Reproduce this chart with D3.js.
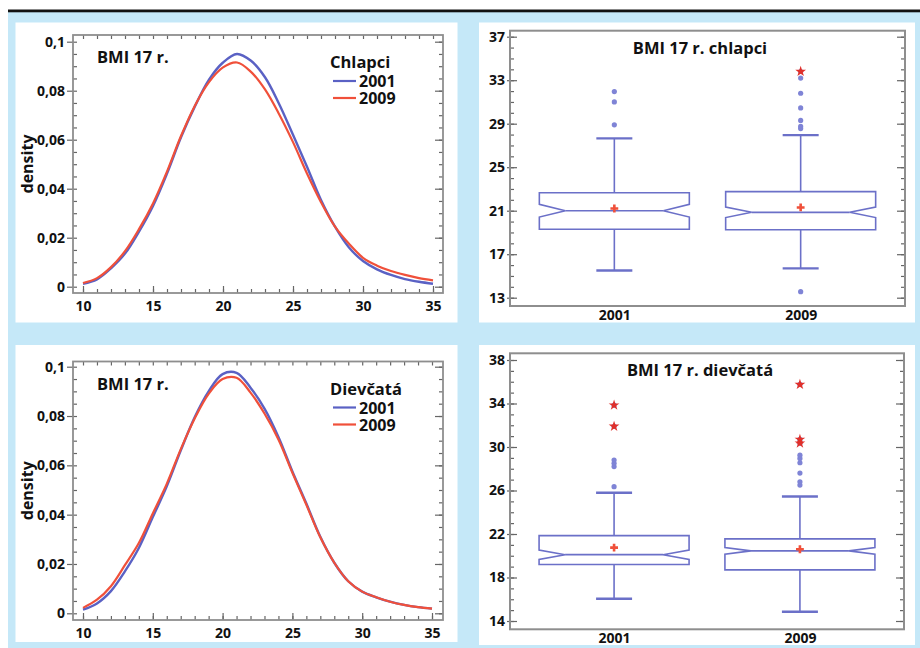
<!DOCTYPE html>
<html>
<head>
<meta charset="utf-8">
<script src="https://cdn.jsdelivr.net/npm/d3@7"></script>
<style>
  body { margin: 0; background: #fff; }
  text { font-family: "Open Sans", sans-serif; font-weight: 700; fill: #111; }
</style>
</head>
<body>
<svg id="chart" width="920" height="648"></svg>
<script>
// BMI grid used for the density curves
var bmiX = [10, 11, 12, 13, 14, 15, 16, 17, 18, 19, 20, 21, 22, 23, 24, 25, 26, 27, 28, 29, 30, 31, 32, 33, 34, 35];

// density estimates
var boys2001 = [0.0012, 0.0030, 0.0075, 0.0135, 0.0225, 0.0330, 0.0462, 0.0610, 0.0737, 0.0845, 0.0915, 0.0950, 0.0922,
                0.0855, 0.0747, 0.0620, 0.0490, 0.0354, 0.0245, 0.0160, 0.0105, 0.0071, 0.0048, 0.0031, 0.0020, 0.0012];
var boys2009 = [0.0015, 0.0035, 0.0080, 0.0145, 0.0235, 0.0340, 0.0470, 0.0615, 0.0740, 0.0835, 0.0895, 0.0915, 0.0877,
                0.0805, 0.0705, 0.0590, 0.0462, 0.0345, 0.0245, 0.0175, 0.0118, 0.0086, 0.0064, 0.0048, 0.0035, 0.0026];
var girls2001 = [0.0015, 0.0040, 0.0090, 0.0170, 0.0265, 0.0390, 0.0515, 0.0660, 0.0795, 0.0900, 0.0970, 0.0975, 0.0915,
                 0.0830, 0.0715, 0.0575, 0.0445, 0.0310, 0.0205, 0.0130, 0.0088, 0.0065, 0.0047, 0.0034, 0.0025, 0.0019];
var girls2009 = [0.0022, 0.0055, 0.0110, 0.0195, 0.0285, 0.0405, 0.0525, 0.0665, 0.0790, 0.0890, 0.0950, 0.0955, 0.0895,
                 0.0810, 0.0705, 0.0570, 0.0440, 0.0308, 0.0205, 0.0130, 0.0088, 0.0065, 0.0047, 0.0034, 0.0025, 0.0019];

var densityTicks = [0, 0.02, 0.04, 0.06, 0.08, 0.1];
var bmiTicks = [10, 15, 20, 25, 30, 35];
var years = ["2001", "2009"];

// box plot summaries (lower whisker, Q1, median, Q3, upper whisker, mean, notch half width)
var boysBox = [
  { year: "2001", lo: 15.5, q1: 19.3, med: 21.0, q3: 22.65, hi: 27.65, mean: 21.2, notch: 0.58 },
  { year: "2009", lo: 15.7, q1: 19.25, med: 20.85, q3: 22.75, hi: 27.95, mean: 21.3, notch: 0.48 }
];
var girlsBox = [
  { year: "2001", lo: 16.05, q1: 19.2, med: 20.1, q3: 21.85, hi: 25.8, mean: 20.75, notch: 0.43 },
  { year: "2009", lo: 14.85, q1: 18.7, med: 20.45, q3: 21.55, hi: 25.45, mean: 20.6, notch: 0.3 }
];
var boysOut = [
  { year: "2001", v: 28.9, far: false }, { year: "2001", v: 31.0, far: false }, { year: "2001", v: 31.95, far: false },
  { year: "2009", v: 13.55, far: false }, { year: "2009", v: 28.55, far: false }, { year: "2009", v: 28.75, far: false },
  { year: "2009", v: 29.3, far: false }, { year: "2009", v: 30.45, far: false }, { year: "2009", v: 31.8, far: false },
  { year: "2009", v: 33.2, far: false }, { year: "2009", v: 33.8, far: true }
];
var girlsOut = [
  { year: "2001", v: 26.35, far: false }, { year: "2001", v: 28.2, far: false }, { year: "2001", v: 28.5, far: false },
  { year: "2001", v: 28.8, far: false }, { year: "2001", v: 31.9, far: true }, { year: "2001", v: 33.85, far: true },
  { year: "2009", v: 26.5, far: false }, { year: "2009", v: 26.8, far: false }, { year: "2009", v: 27.6, far: false },
  { year: "2009", v: 28.55, far: false }, { year: "2009", v: 28.95, far: false }, { year: "2009", v: 29.25, far: false },
  { year: "2009", v: 30.35, far: true }, { year: "2009", v: 30.7, far: true }, { year: "2009", v: 35.75, far: true }
];

var BLUE = "#5a61c4", RED = "#f0503a", BOXC = "#6b70c8", DOT = "#7f84d6", FRAME = "#8e8e8e", TICK = "#666";

var svg = d3.select("#chart");
var comma = d3.formatLocale({ decimal: ",", thousands: " ", grouping: [3], currency: ["", ""] });
var fmtDens = comma.format(".2~f");

// page background, rule and white panels
svg.append("rect").attr("x", 8).attr("y", 12).attr("width", 912).attr("height", 636).attr("fill", "#c5e8f8");
svg.append("rect").attr("x", 8).attr("y", 9.5).attr("width", 912).attr("height", 2.8).attr("fill", "#111");
[[15.5, 22.5, 442, 300], [479, 22.5, 436, 300], [15.5, 345, 442, 297], [479, 345, 436, 300]].forEach(function(p) {
  svg.append("rect").attr("x", p[0]).attr("y", p[1]).attr("width", p[2]).attr("height", p[3]).attr("fill", "#fff");
});

function styleAxis(g) {
  g.select(".domain").remove();
  g.selectAll(".tick line").attr("stroke", TICK).attr("stroke-width", 1.2);
  g.selectAll("text").attr("font-size", 14).attr("fill", "#111");
}

/* density panel */
function makeDensity(p, series2001, series2009, groupName) {
  var g = svg.append("g");
  var x = d3.scaleLinear().domain([10, 35]).range(p.xr);
  var y = d3.scaleLinear().domain([0, 0.1]).range(p.yr);

  g.append("g").attr("transform", "translate(" + p.x0 + ",0)")
    .call(d3.axisLeft(y).tickValues(densityTicks).tickFormat(fmtDens).tickSize(6).tickPadding(2)).call(styleAxis);
  g.append("g").attr("transform", "translate(" + p.x0 + ",0)")
    .call(d3.axisLeft(y).tickValues(y.ticks(20)).tickFormat("").tickSize(-4)).call(styleAxis);
  g.append("g").attr("transform", "translate(" + p.x1 + ",0)")
    .call(d3.axisRight(y).tickValues(y.ticks(20)).tickFormat("").tickSize(-4)).call(styleAxis);
  g.append("g").attr("transform", "translate(" + p.x1 + ",0)")
    .call(d3.axisRight(y).tickValues(densityTicks).tickFormat("").tickSize(-8)).call(styleAxis);
  g.append("g").attr("transform", "translate(0," + p.y0 + ")")
    .call(d3.axisTop(x).tickValues(x.ticks(25)).tickFormat("").tickSize(-4)).call(styleAxis);
  g.append("g").attr("transform", "translate(0," + p.y1 + ")")
    .call(d3.axisBottom(x).tickValues(x.ticks(25)).tickFormat("").tickSize(-4)).call(styleAxis);
  g.append("g").attr("transform", "translate(0," + p.y1 + ")")
    .call(d3.axisBottom(x).tickValues(bmiTicks).tickFormat(d3.format("d")).tickSize(-7).tickPadding(8)).call(styleAxis);

  g.append("rect").attr("x", p.x0).attr("y", p.y0).attr("width", p.x1 - p.x0).attr("height", p.y1 - p.y0)
    .attr("fill", "none").attr("stroke", FRAME).attr("stroke-width", 1.8);

  var line = d3.line().x(function(d, i) { return x(bmiX[i]); }).y(function(d) { return y(d); })
    .curve(d3.curveCatmullRom.alpha(0.5));
  g.append("path").datum(series2001).attr("d", line).attr("fill", "none").attr("stroke", BLUE).attr("stroke-width", 2.4);
  g.append("path").datum(series2009).attr("d", line).attr("fill", "none").attr("stroke", RED).attr("stroke-width", 2.2);

  g.append("text").attr("transform", "translate(27," + ((p.y0 + p.y1) / 2) + ") rotate(-90)")
    .attr("text-anchor", "middle").attr("dy", "0.35em").attr("font-size", 16).text("density");
  g.append("text").attr("x", p.x0 + 24).attr("y", p.y0 + 28).attr("font-size", 16.5).text("BMI 17 r.");
  g.append("text").attr("x", p.x0 + 257).attr("y", p.y0 + 33).attr("font-size", 16.5).text(groupName);
  [[years[0], BLUE, 46], [years[1], RED, 63]].forEach(function(r) {
    g.append("line").attr("x1", p.x0 + 260).attr("x2", p.x0 + 283).attr("y1", p.y0 + r[2]).attr("y2", p.y0 + r[2])
      .attr("stroke", r[1]).attr("stroke-width", 2.2);
    g.append("text").attr("x", p.x0 + 286).attr("y", p.y0 + r[2] + 6).attr("font-size", 16).text(r[0]);
  });
}

/* notched box plot panel */
function makeBox(p, stats, outliers, title) {
  var g = svg.append("g");
  var x = d3.scalePoint().domain(years).range([p.x0, p.x1]).padding(0.56);
  var y = d3.scaleLinear().domain(p.dom).range(p.yr);
  var majors = d3.range(p.dom[0], p.dom[1] + 1, 4);

  g.append("g").attr("transform", "translate(" + p.x0 + ",0)")
    .call(d3.axisLeft(y).tickValues(majors).tickFormat(d3.format("d")).tickSize(3).tickPadding(2)).call(styleAxis);
  g.append("g").attr("transform", "translate(" + p.x0 + ",0)")
    .call(d3.axisLeft(y).tickValues(y.ticks(24)).tickFormat("").tickSize(-4)).call(styleAxis);
  g.append("g").attr("transform", "translate(" + p.x0 + ",0)")
    .call(d3.axisLeft(y).tickValues(majors).tickFormat("").tickSize(-7)).call(styleAxis);
  g.append("g").attr("transform", "translate(" + p.x1 + ",0)")
    .call(d3.axisRight(y).tickValues(y.ticks(24)).tickFormat("").tickSize(-4)).call(styleAxis);
  g.append("g").attr("transform", "translate(" + p.x1 + ",0)")
    .call(d3.axisRight(y).tickValues(majors).tickFormat("").tickSize(-8)).call(styleAxis);
  g.append("g").attr("transform", "translate(0," + p.y1 + ")")
    .call(d3.axisBottom(x).tickSize(0).tickPadding(4)).call(styleAxis);

  g.append("rect").attr("x", p.x0).attr("y", p.y0).attr("width", p.x1 - p.x0).attr("height", p.y1 - p.y0)
    .attr("fill", "none").attr("stroke", FRAME).attr("stroke-width", 2);

  g.append("text").attr("x", 700).attr("y", p.y0 + 23).attr("text-anchor", "middle").attr("font-size", 16.5).text(title);

  var hw = 75, inset = 26, cap = 18;
  stats.forEach(function(s) {
    var cx = x(s.year);
    var nu = y(s.med + s.notch), nl = y(s.med - s.notch), ym = y(s.med);
    var path = d3.path();
    path.moveTo(cx - hw, y(s.q3)); path.lineTo(cx + hw, y(s.q3)); path.lineTo(cx + hw, nu);
    path.lineTo(cx + hw - inset, ym); path.lineTo(cx + hw, nl); path.lineTo(cx + hw, y(s.q1));
    path.lineTo(cx - hw, y(s.q1)); path.lineTo(cx - hw, nl); path.lineTo(cx - hw + inset, ym);
    path.lineTo(cx - hw, nu); path.closePath();
    g.append("path").attr("d", path.toString()).attr("fill", "none").attr("stroke", BOXC).attr("stroke-width", 1.6);
    g.append("line").attr("x1", cx - hw + inset).attr("x2", cx + hw - inset).attr("y1", ym).attr("y2", ym)
      .attr("stroke", BOXC).attr("stroke-width", 1.6);
    // whiskers
    g.append("line").attr("x1", cx).attr("x2", cx).attr("y1", y(s.q3)).attr("y2", y(s.hi)).attr("stroke", BOXC).attr("stroke-width", 1.6);
    g.append("line").attr("x1", cx).attr("x2", cx).attr("y1", y(s.q1)).attr("y2", y(s.lo)).attr("stroke", BOXC).attr("stroke-width", 1.6);
    [s.hi, s.lo].forEach(function(v) {
      g.append("line").attr("x1", cx - cap).attr("x2", cx + cap).attr("y1", y(v)).attr("y2", y(v))
        .attr("stroke", BOXC).attr("stroke-width", 2.4);
    });
    g.append("path").attr("transform", "translate(" + cx + "," + y(s.mean) + ")")
      .attr("d", d3.symbol(d3.symbolCross, 34)()).attr("fill", RED);
  });

  g.selectAll("circle.out").data(outliers).enter().append("circle")
    .attr("cx", function(d) { return x(d.year); }).attr("cy", function(d) { return y(d.v); })
    .attr("r", 2.6).attr("fill", DOT);
  g.selectAll("path.far").data(outliers.filter(function(d) { return d.far; })).enter().append("path")
    .attr("transform", function(d) { return "translate(" + x(d.year) + "," + y(d.v) + ")"; })
    .attr("d", d3.symbol(d3.symbolStar, 36)()).attr("fill", "#e0302a");
}

makeDensity({ x0: 73, x1: 443, y0: 35, y1: 293, xr: [83, 433], yr: [286.7, 41.7] }, boys2001, boys2009, "Chlapci");
makeDensity({ x0: 73, x1: 443, y0: 361.5, y1: 620, xr: [83, 432], yr: [613.3, 366.7] }, girls2001, girls2009, "Dievčatá");
makeBox({ x0: 510, x1: 905, y0: 30.7, y1: 306, dom: [13, 37], yr: [297.7, 36.7] }, boysBox, boysOut, "BMI 17 r. chlapci");
makeBox({ x0: 510, x1: 904, y0: 353.3, y1: 629.3, dom: [14, 38], yr: [621, 360] }, girlsBox, girlsOut, "BMI 17 r. dievčatá");
</script>
</body>
</html>
